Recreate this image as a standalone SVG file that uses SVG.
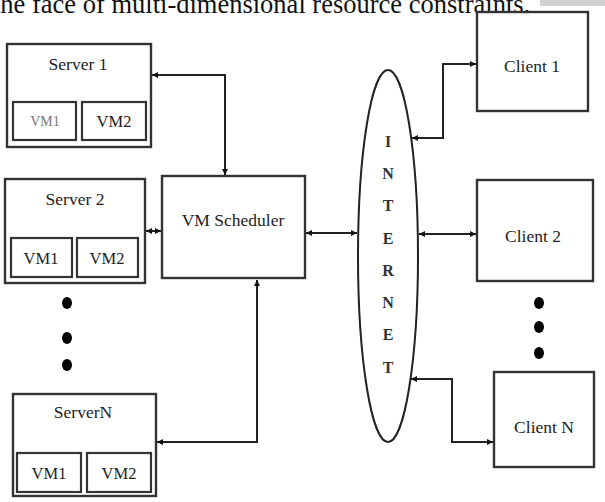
<svg xmlns="http://www.w3.org/2000/svg" width="605" height="502" viewBox="0 0 605 502">
<style>
.box{fill:#fff;stroke:#333;stroke-width:2.4}
.vm{fill:#fff;stroke:#333;stroke-width:2.2}
.t{font-family:"Liberation Serif","Times New Roman",serif;fill:#222;text-anchor:middle}
.lbl{font-size:17.5px}
.vmt{font-size:16.5px}
.net{font-size:16px;font-weight:bold;fill:#333}
.ln{fill:none;stroke:#222;stroke-width:2}
.dot{fill:#000}
</style>
<defs>
<marker id="ah" markerUnits="userSpaceOnUse" markerWidth="8" markerHeight="8" refX="6" refY="3" orient="auto-start-reverse">
<path d="M0,0 L6,3 L0,6 Z" fill="#111"/>
</marker>
</defs>
<rect x="540" y="0" width="65" height="6" fill="#d2d2d2"/>
<text x="-7" y="13" font-family="Liberation Serif,serif" font-size="26.5" fill="#111">the face of multi-dimensional resource constraints.</text>
<g id="connectors">
<path class="ln" d="M225,175 V75 H152" marker-start="url(#ah)" marker-end="url(#ah)"/>
<path class="ln" d="M146,231 H161" marker-start="url(#ah)" marker-end="url(#ah)"/>
<path class="ln" d="M257,280 V442 H157" marker-start="url(#ah)" marker-end="url(#ah)"/>
<path class="ln" d="M306,233 H357" marker-start="url(#ah)" marker-end="url(#ah)"/>
<path class="ln" d="M412,138 H443 V64 H476" marker-start="url(#ah)" marker-end="url(#ah)"/>
<path class="ln" d="M419,234 H476" marker-start="url(#ah)" marker-end="url(#ah)"/>
<path class="ln" d="M411,379 H452 V442 H493" marker-start="url(#ah)" marker-end="url(#ah)"/>
</g>
<g id="server1">
<rect class="box" x="7" y="44" width="144" height="103"/>
<text class="t lbl" x="78" y="70">Server 1</text>
<rect class="vm" x="13" y="102" width="63" height="38"/>
<text class="t" x="45" y="126" font-size="14" style="fill:#777">VM1</text>
<rect class="vm" x="82" y="102" width="64" height="38"/>
<text class="t vmt" x="114" y="127">VM2</text>
</g>
<g id="server2">
<rect class="box" x="5" y="179" width="140" height="104"/>
<text class="t lbl" x="75" y="205">Server 2</text>
<rect class="vm" x="11" y="238" width="61" height="39"/>
<text class="t vmt" x="41" y="264">VM1</text>
<rect class="vm" x="77" y="238" width="61" height="39"/>
<text class="t vmt" x="107" y="264">VM2</text>
</g>
<g id="server-dots">
<ellipse class="dot" cx="67" cy="303" rx="5" ry="6"/>
<ellipse class="dot" cx="67" cy="338" rx="5" ry="6"/>
<ellipse class="dot" cx="67" cy="365" rx="5" ry="6"/>
</g>
<g id="serverN">
<rect class="box" x="13" y="394" width="143" height="102"/>
<text class="t lbl" x="83" y="418">ServerN</text>
<rect class="vm" x="17" y="453" width="64" height="39"/>
<text class="t vmt" x="49" y="479">VM1</text>
<rect class="vm" x="87" y="453" width="64" height="39"/>
<text class="t vmt" x="119" y="479">VM2</text>
</g>
<g id="scheduler">
<rect class="box" x="162" y="176" width="143" height="102"/>
<text class="t lbl" x="233" y="226">VM Scheduler</text>
</g>
<g id="internet">
<ellipse cx="388" cy="256" rx="30" ry="186" fill="#fff" stroke="#222" stroke-width="2"/>
<text class="t net" x="388" y="147">I</text>
<text class="t net" x="388" y="179">N</text>
<text class="t net" x="388" y="211">T</text>
<text class="t net" x="388" y="244">E</text>
<text class="t net" x="388" y="276">R</text>
<text class="t net" x="388" y="308">N</text>
<text class="t net" x="388" y="340">E</text>
<text class="t net" x="388" y="373">T</text>
</g>
<g id="client1">
<rect class="box" x="477" y="12" width="111" height="99"/>
<text class="t lbl" x="532" y="72">Client 1</text>
</g>
<g id="client2">
<rect class="box" x="477" y="180" width="116" height="101"/>
<text class="t lbl" x="533" y="242">Client 2</text>
</g>
<g id="client-dots">
<ellipse class="dot" cx="539" cy="303" rx="5" ry="6"/>
<ellipse class="dot" cx="539" cy="327" rx="5" ry="6"/>
<ellipse class="dot" cx="539" cy="353" rx="5" ry="6"/>
</g>
<g id="clientN">
<rect class="box" x="494" y="372" width="100" height="95"/>
<text class="t lbl" x="544" y="433">Client N</text>
</g>
</svg>
